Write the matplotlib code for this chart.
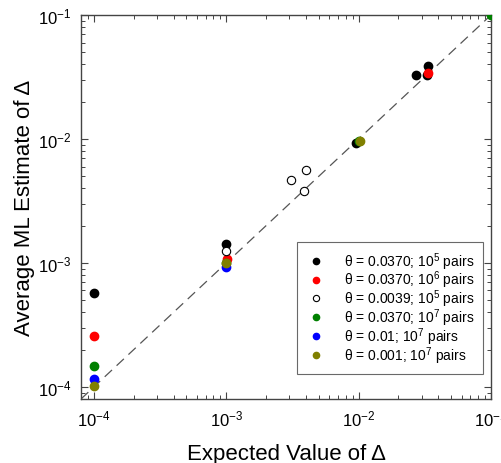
import matplotlib
matplotlib.use("Agg")
import matplotlib.pyplot as plt
from matplotlib.ticker import LogLocator, FixedLocator
import numpy as np

plt.rcParams['font.family'] = ['Liberation Sans', 'DejaVu Sans']
plt.rcParams['mathtext.fontset'] = 'custom'
plt.rcParams['mathtext.rm'] = 'Liberation Sans'
plt.rcParams['mathtext.it'] = 'Liberation Sans'

# Data (expected value, ML estimate)
black_x = [1e-4, 1e-3, 9.5e-3, 2.73e-2, 3.36e-2, 3.3e-2]
black_y = [5.7e-4, 1.43e-3, 9.2e-3, 3.27e-2, 3.86e-2, 3.27e-2]
red_x = [1e-4, 1.02e-3, 3.37e-2]
red_y = [2.56e-4, 1.08e-3, 3.39e-2]
open_x = [1e-3, 3.1e-3, 4.0e-3, 3.9e-3]
open_y = [1.25e-3, 4.7e-3, 5.6e-3, 3.8e-3]
green_x = [1e-4, 1e-3, 1e-2, 0.1]
green_y = [1.47e-4, 1.0e-3, 9.7e-3, 0.1]
blue_x = [1e-4, 1e-3]
blue_y = [1.15e-4, 9.3e-4]
olive_x = [1e-4, 1e-3, 1.02e-2]
olive_y = [1.01e-4, 1.0e-3, 9.7e-3]

labels = ["θ = 0.0370; 10$^5$ pairs",
          "θ = 0.0370; 10$^6$ pairs",
          "θ = 0.0039; 10$^5$ pairs",
          "θ = 0.0370; 10$^7$ pairs",
          "θ = 0.01; 10$^7$ pairs",
          "θ = 0.001; 10$^7$ pairs"]

lims = [8e-5, 0.1]

fig = plt.figure(figsize=(5.02, 4.64), dpi=100)
ax = fig.add_axes([81/502, 1-400/464, 410/502, 384/464])
ax.set_xscale('log')
ax.set_yscale('log')

ax.plot(lims, lims, linestyle=(0, (8, 5)), color='#555555', lw=0.9, zorder=1)

ms = 6
ax.plot(black_x, black_y, 'o', color='black', ms=ms, label=labels[0], zorder=3)
ax.plot(red_x, red_y, 'o', color='#ff0000', ms=ms, label=labels[1], zorder=3)
ax.plot(open_x, open_y, 'o', mfc='white', mec='black', mew=0.8, ms=ms, label=labels[2], zorder=3)
ax.plot(green_x, green_y, 'o', color='#008000', ms=ms, label=labels[3], zorder=3)
ax.plot(blue_x, blue_y, 'o', color='#0000ff', ms=ms, label=labels[4], zorder=3)
ax.plot(olive_x, olive_y, 'o', color='#808000', ms=ms, label=labels[5], zorder=3)

ax.set_xlim(lims)
ax.set_ylim(lims)
ax.xaxis.set_major_locator(FixedLocator([1e-4, 1e-3, 1e-2, 1e-1]))
ax.yaxis.set_major_locator(FixedLocator([1e-4, 1e-3, 1e-2, 1e-1]))
ax.xaxis.set_minor_locator(LogLocator(base=10, subs=np.arange(2, 10), numticks=20))
ax.yaxis.set_minor_locator(LogLocator(base=10, subs=np.arange(2, 10), numticks=20))
ax.tick_params(which='both', direction='in', top=True, right=True, labelsize=12, color='#444444')
ax.tick_params(which='major', length=5, width=0.8, pad=7)
ax.tick_params(which='minor', length=3, width=0.7)
for s in ax.spines.values():
    s.set_color('#444444')
    s.set_linewidth(1.0)

ax.set_xlabel("Expected Value of Δ", fontsize=16, labelpad=10)
ax.set_ylabel("Average ML Estimate of Δ", fontsize=16, labelpad=2)

leg = ax.legend(loc='lower right', bbox_to_anchor=(0.98, 0.065), fontsize=10,
                frameon=True, fancybox=False, edgecolor='#444444', markerscale=0.75,
                handlelength=1.6, handletextpad=1.2, borderpad=0.6, labelspacing=-0.2,
                borderaxespad=0)
leg.get_frame().set_linewidth(0.8)

fig.savefig("out.png", dpi=100)
